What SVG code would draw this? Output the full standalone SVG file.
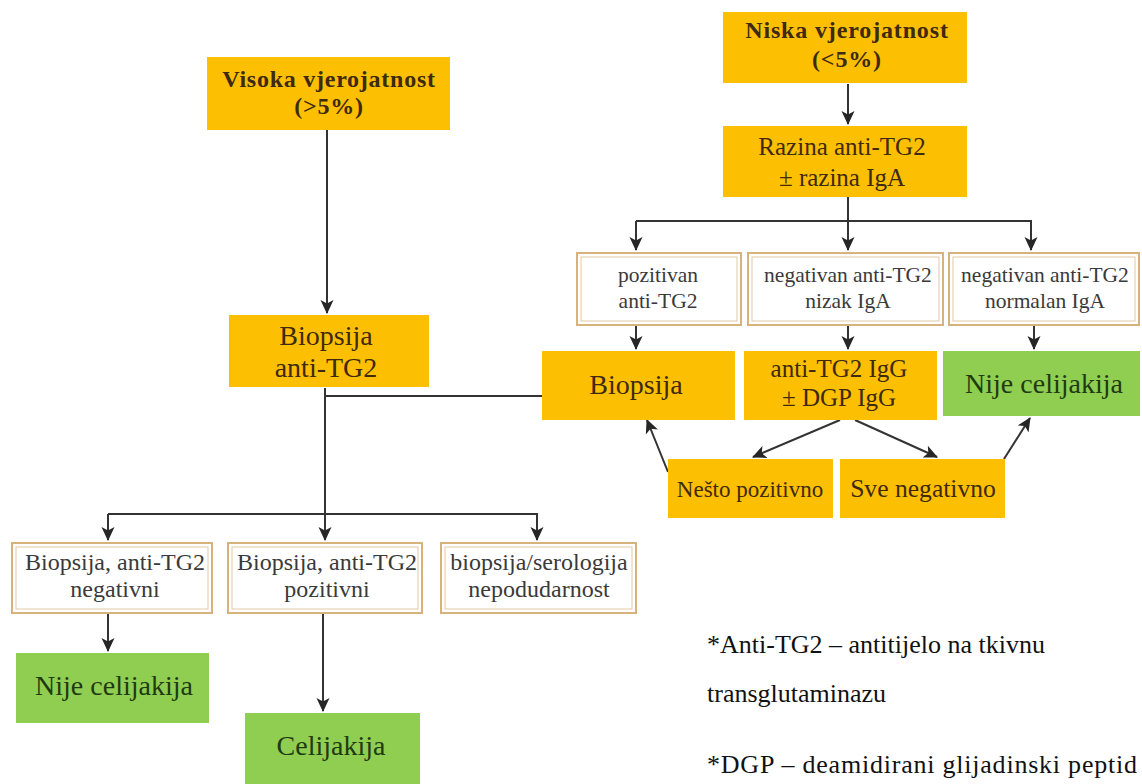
<svg xmlns="http://www.w3.org/2000/svg" width="1142" height="784" viewBox="0 0 1142 784">
<defs>
<marker id="ah" viewBox="0 0 14 14" refX="13" refY="7" markerWidth="14" markerHeight="14" markerUnits="userSpaceOnUse" orient="auto">
<path d="M0,0.5 L14,7 L0,13.5 L3.5,7 Z" fill="#262626"/>
</marker>
</defs>
<style>
.or{fill:#FDBF02}
.gr{fill:#8FCE50}
.ob{fill:#fff;stroke:#D8B27C;stroke-width:2}
.ib{fill:none;stroke:#E2C9A2;stroke-width:1}
.t{font-family:"Liberation Serif","Times New Roman",serif;fill:#3d2a10;text-anchor:middle}
.tw{fill:#3a3a3a}
.tb{font-weight:bold}
.tg{fill:#1f3a12}
.ln{stroke:#333;stroke-width:2;fill:none}
.fn{font-family:"Liberation Serif","Times New Roman",serif;fill:#111;font-size:26px}
</style>
<rect width="1142" height="784" fill="#fff"/>
<g id="connectors">
<path class="ln" d="M327,130 V313" marker-end="url(#ah)"/>
<path class="ln" d="M848,84 V124" marker-end="url(#ah)"/>
<path class="ln" d="M848,197 V250" marker-end="url(#ah)"/>
<path class="ln" d="M636,221 V250" marker-end="url(#ah)"/>
<path class="ln" d="M636,221 H1031 V250" marker-end="url(#ah)"/>
<path class="ln" d="M636,326 V349" marker-end="url(#ah)"/>
<path class="ln" d="M848,326 V349" marker-end="url(#ah)"/>
<path class="ln" d="M1034,326 V349" marker-end="url(#ah)"/>
<path class="ln" d="M840,420 L753,457" marker-end="url(#ah)"/>
<path class="ln" d="M855,420 L937,457" marker-end="url(#ah)"/>
<path class="ln" d="M668,472 L647,420" marker-end="url(#ah)"/>
<path class="ln" d="M1004,459 L1030,418" marker-end="url(#ah)"/>
<path class="ln" d="M325,388 V540" marker-end="url(#ah)"/>
<path class="ln" d="M325,396 H542"/>
<path class="ln" d="M108,514 H537 V540" marker-end="url(#ah)"/>
<path class="ln" d="M108,514 V540" marker-end="url(#ah)"/>
<path class="ln" d="M108,613 V651" marker-end="url(#ah)"/>
<path class="ln" d="M323,613 V711" marker-end="url(#ah)"/>
</g>
<g id="n-visoka">
<rect class="or" x="207" y="57" width="243" height="73"/>
<text class="t tb" x="329" y="87" font-size="24" letter-spacing="0.75">Visoka vjerojatnost</text>
<text class="t tb" x="329" y="114" font-size="24" letter-spacing="0.75">(&gt;5%)</text>
</g>
<g id="n-niska">
<rect class="or" x="723" y="12" width="244" height="71"/>
<text class="t tb" x="847" y="38" font-size="24" letter-spacing="0.85">Niska vjerojatnost</text>
<text class="t tb" x="847" y="67" font-size="24" letter-spacing="0.85">(&lt;5%)</text>
</g>
<g id="n-razina">
<rect class="or" x="723" y="126" width="244" height="71"/>
<text class="t" x="842" y="155" font-size="25">Razina anti-TG2</text>
<text class="t" x="842" y="186" font-size="25">± razina IgA</text>
</g>
<g id="n-pozitivan">
<rect class="ob" x="577" y="253" width="164" height="72"/>
<rect class="ib" x="581" y="257" width="156" height="64"/>
<text class="t tw" x="658" y="282" font-size="21.5">pozitivan</text>
<text class="t tw" x="658" y="308" font-size="21.5">anti-TG2</text>
</g>
<g id="n-nizak">
<rect class="ob" x="748" y="253" width="195" height="72"/>
<rect class="ib" x="752" y="257" width="187" height="64"/>
<text class="t tw" x="848" y="282" font-size="21.5">negativan anti-TG2</text>
<text class="t tw" x="848" y="308" font-size="21.5">nizak IgA</text>
</g>
<g id="n-normalan">
<rect class="ob" x="949" y="253" width="190" height="72"/>
<rect class="ib" x="953" y="257" width="182" height="64"/>
<text class="t tw" x="1045" y="282" font-size="21.5">negativan anti-TG2</text>
<text class="t tw" x="1045" y="308" font-size="21.5">normalan IgA</text>
</g>
<g id="n-biopsija-r">
<rect class="or" x="542" y="351" width="193" height="69"/>
<text class="t" x="636" y="394" font-size="28">Biopsija</text>
</g>
<g id="n-igg">
<rect class="or" x="744" y="351" width="193" height="69"/>
<text class="t" x="839" y="377" font-size="25">anti-TG2 IgG</text>
<text class="t" x="839" y="406" font-size="25">± DGP IgG</text>
</g>
<g id="n-nije-r">
<rect class="gr" x="943" y="351" width="197" height="65"/>
<text class="t tg" x="1044" y="393" font-size="28">Nije celijakija</text>
</g>
<g id="n-nesto">
<rect class="or" x="668" y="459" width="165" height="59"/>
<text class="t" x="750" y="497" font-size="23">Nešto pozitivno</text>
</g>
<g id="n-sve">
<rect class="or" x="840" y="459" width="165" height="59"/>
<text class="t" x="923" y="497" font-size="25.6">Sve negativno</text>
</g>
<g id="n-biopsija-l">
<rect class="or" x="229" y="315" width="200" height="72"/>
<text class="t" x="326" y="345" font-size="28">Biopsija</text>
<text class="t" x="326" y="377" font-size="28">anti-TG2</text>
</g>
<g id="n-neg">
<rect class="ob" x="12" y="543" width="200" height="70"/>
<rect class="ib" x="16" y="547" width="192" height="62"/>
<text class="t tw" x="115" y="570" font-size="24">Biopsija, anti-TG2</text>
<text class="t tw" x="115" y="597" font-size="24">negativni</text>
</g>
<g id="n-poz">
<rect class="ob" x="228" y="543" width="194" height="70"/>
<rect class="ib" x="232" y="547" width="186" height="62"/>
<text class="t tw" x="327" y="570" font-size="24">Biopsija, anti-TG2</text>
<text class="t tw" x="327" y="597" font-size="24">pozitivni</text>
</g>
<g id="n-nepod">
<rect class="ob" x="441" y="543" width="195" height="70"/>
<rect class="ib" x="445" y="547" width="187" height="62"/>
<text class="t tw" x="539" y="570" font-size="24">biopsija/serologija</text>
<text class="t tw" x="539" y="597" font-size="24">nepodudarnost</text>
</g>
<g id="n-nije-l">
<rect class="gr" x="16" y="653" width="193" height="70"/>
<text class="t tg" x="114" y="695" font-size="28">Nije celijakija</text>
</g>
<g id="n-celijakija">
<rect class="gr" x="245" y="713" width="175" height="71"/>
<text class="t tg" x="331" y="755" font-size="28">Celijakija</text>
</g>
<g id="footnotes">
<text class="fn" x="707" y="653">*Anti-TG2 – antitijelo na tkivnu</text>
<text class="fn" x="707" y="702">transglutaminazu</text>
<text class="fn" x="707" y="773" textLength="430" lengthAdjust="spacing">*DGP – deamidirani glijadinski peptid</text>
</g>
</svg>
